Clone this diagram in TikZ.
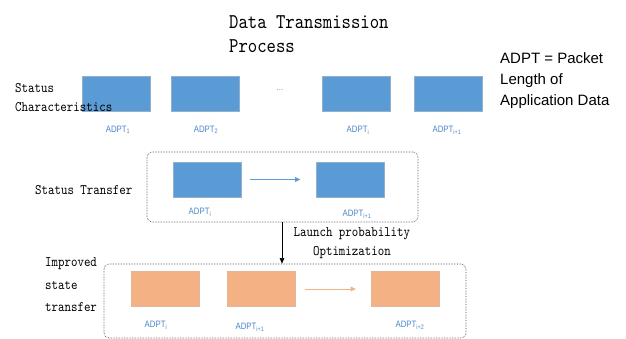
\documentclass[tikz,border=0pt]{standalone}
\usepackage{fontspec}
\newfontfamily\labfont{Liberation Sans}
\newfontfamily\narfont[FakeStretch=0.84]{Liberation Sans}
\newfontfamily\monof[FakeStretch=0.85]{lmmono10-regular.otf}
\usetikzlibrary{arrows.meta,positioning}
\definecolor{ink}{HTML}{1A1A1A}
\definecolor{pblue}{HTML}{5B9BD5}
\definecolor{porange}{HTML}{F4B183}
\definecolor{lblue}{HTML}{4A86C8}
\newcommand{\adpt}[1]{ADPT\textsubscript{#1}}

\begin{document}
\begin{tikzpicture}[
  x=1pt, y=-1pt,
  font=\monof\fontsize{14.5}{19}\selectfont,
  bbox/.style={draw=pblue!80!black!60, line width=0.3pt, fill=pblue,
               minimum width=68pt, minimum height=35pt, inner sep=0pt},
  obox/.style={bbox, draw=porange!85!black!70, fill=porange},
  lab/.style={font=\narfont\fontsize{9.3}{10}\selectfont, text=lblue, inner sep=0pt},
  frame/.style={draw=ink!85, densely dotted, line width=0.6pt, rounded corners=5pt,
                inner sep=0pt},
  side/.style={anchor=west, align=left, inner sep=0pt},
  barr/.style={-{Triangle[length=1.8mm, width=1.6mm]}, line width=0.7pt, draw=pblue},
  oarr/.style={barr, draw=porange},
  darr/.style={-{Triangle[length=2mm, width=1.6mm]}, line width=0.7pt, draw=black},
]
\useasboundingbox (0,0) rectangle (626,339);

% title and legend
\node[side, font=\monof\fontsize{21}{24}\selectfont] (title) at (229,34)
  {Data Transmission\\Process};
\node[side, font=\labfont\fontsize{15}{21}\selectfont] (legend) at (500,81)
  {ADPT = Packet\\Length of\\Application Data};

% status characteristics
\node[bbox] (s1) at (116,93.5) {};
\node[bbox] (s2) at (205,93.5) {};
\node (dots) at (280,90) {\rmfamily\fontsize{7}{8}\selectfont ...};
\node[bbox] (s3) at (356,93.5) {};
\node[bbox] (s4) at (448,93.5) {};
\node[lab] (ls1) at (118,130) {\adpt{1}};
\node[lab] (ls2) at (206,130) {\adpt{2}};
\node[lab] (ls3) at (358,130) {\adpt{i}};
\node[lab] (ls4) at (447,130) {\adpt{i+1}};
\node[side] (schar) at (15,97.5) {Status\\Characteristics};

% status transfer
\node[frame, minimum width=271pt, minimum height=70pt] (f1) at (282.5,187) {};
\node[bbox] (t1) at (207.5,179.5) {};
\node[bbox] (t2) at (350.5,179.5) {};
\node[lab] (lt1) at (200,212) {\adpt{i}};
\node[lab] (lt2) at (357,214) {\adpt{i+1}};
\draw[barr, shorten <=8pt, shorten >=16pt] (t1) -- (t2);
\node[side] (stran) at (35,190) {Status Transfer};

% improved state transfer
\node[frame, minimum width=362pt, minimum height=74pt] (f2) at (285,301) {};
\node[obox] (i1) at (165,289) {};
\node[obox] (i2) at (261.5,289) {};
\node[obox] (i3) at (405,289) {};
\node[lab] (li1) at (156,325) {\adpt{i}};
\node[lab] (li2) at (250,327) {\adpt{i+1}};
\node[lab] (li3) at (410,325) {\adpt{i+2}};
\draw[oarr, shorten <=9pt, shorten >=15pt] (i2) -- (i3);
\node[side, font=\monof\fontsize{14.5}{22.5}\selectfont] (itran) at (45,285)
  {Improved\\state\\transfer};

\draw[darr] (f1.south -| 282,0) -- (f2.north -| 282,0)
  node[midway, right=8pt, align=center] {Launch probability\\Optimization};
\end{tikzpicture}
\end{document}
